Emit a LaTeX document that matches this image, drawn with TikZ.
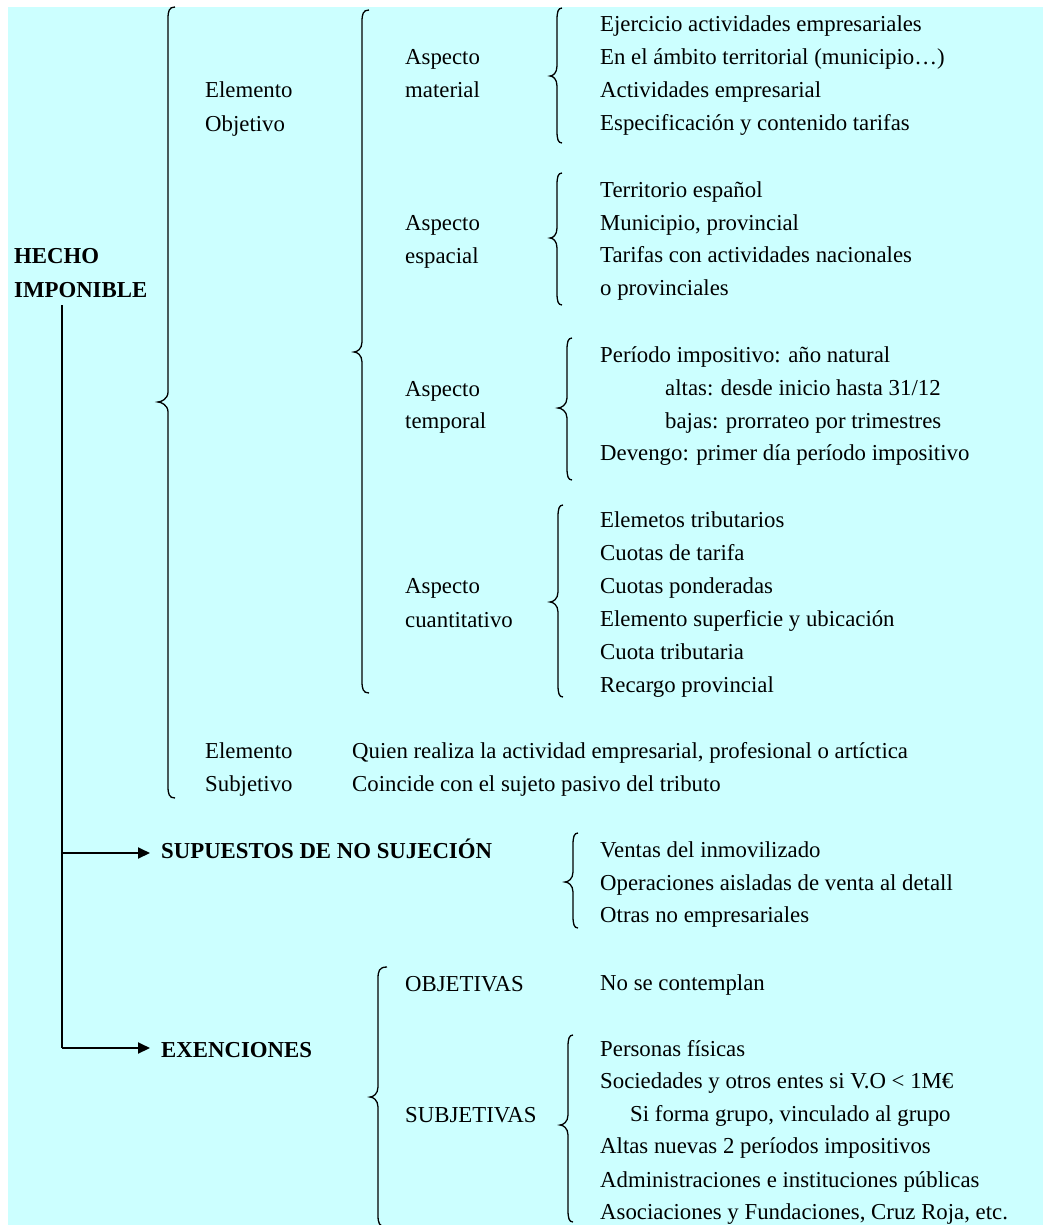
\documentclass[tikz,border=0pt]{standalone}
\usepackage{fontspec}
\setmainfont{Liberation Serif}
\usetikzlibrary{arrows.meta}
\definecolor{bgcyan}{RGB}{204,255,255}
\tikzset{
  txt/.style={anchor=base west, inner sep=0pt, font=\fontsize{22.8pt}{27pt}\selectfont},
  btxt/.style={txt, font=\fontsize{22.8pt}{27pt}\selectfont\bfseries},
  bracestyle/.style={line width=1.3pt, black},
  trunk/.style={line width=1.4pt, black},
  arr/.style={line width=2pt, -{Triangle[length=12pt,width=11pt]}}
}
\newcommand\tl[4]{\node[txt] (#1) at (#2,#3) {#4};}
\newcommand\tlb[4]{\node[btxt] (#1) at (#2,#3) {#4};}
% #1 end x, #2 vertical x, #3 tip x, #4 top y, #5 tip y, #6 bottom y
\newcommand\cbrace[6]{%
  \draw[bracestyle] (#1,#4) .. controls (#2+1,#4) and (#2,#4+4) .. (#2,#4+12)
    -- (#2,#5-10) .. controls (#2,#5-3) and (#3+3,#5) .. (#3,#5)
    .. controls (#3+3,#5) and (#2,#5+3) .. (#2,#5+10)
    -- (#2,#6-12) .. controls (#2,#6-4) and (#2+1,#6) .. (#1,#6);}
\begin{document}
\begin{tikzpicture}[x=1pt,y=-1pt]
\useasboundingbox (0,0) rectangle (1043,1225);
\fill[white] (0,0) rectangle (1043,1225);
\fill[bgcyan] (8,7) rectangle (1043,1225);

% root
\tlb{hecho}{14}{263}{HECHO}
\tlb{imponible}{14}{297}{IMPONIBLE}

% level 1 brace
\cbrace{175}{168}{158}{7}{402}{798}
\tl{eo1}{205}{98}{Elemento}
\tl{eo2}{205}{132}{Objetivo}
\tl{es1}{205}{758}{Elemento}
\tl{es2}{205}{791}{Subjetivo}
\tl{es3}{352}{758}{Quien realiza la actividad empresarial, profesional o artíctica}
\tl{es4}{352}{791}{Coincide con el sujeto pasivo del tributo}

% level 2 brace
\cbrace{369}{362}{354}{10}{352}{693}
\tl{am1}{405}{65}{Aspecto}
\tl{am2}{405}{98}{material}
\tl{ae1}{405}{230}{Aspecto}
\tl{ae2}{405}{263}{espacial}
\tl{at1}{405}{396}{Aspecto}
\tl{at2}{405}{428}{temporal}
\tl{ac1}{405}{593}{Aspecto}
\tl{ac2}{405}{627}{cuantitativo}

% material
\cbrace{562}{557}{550}{8}{76}{143}
\tl{m1}{600}{32}{Ejercicio actividades empresariales}
\tl{m2}{600}{65}{En el ámbito territorial (municipio…)}
\tl{m3}{600}{98}{Actividades empresarial}
\tl{m4}{600}{131}{Especificación y contenido tarifas}

% espacial
\cbrace{562}{557}{550}{173}{238}{305}
\tl{e1}{600}{197}{Territorio español}
\tl{e2}{600}{230}{Municipio, provincial}
\tl{e3}{600}{262}{Tarifas con actividades nacionales}
\tl{e4}{600}{295}{o provinciales}

% temporal
\cbrace{572}{567}{558}{338}{408}{480}
\tl{t1}{600}{362}{Período impositivo: año natural}
\tl{t2}{665}{395}{altas: desde inicio hasta 31/12}
\tl{t3}{665}{428}{bajas: prorrateo por trimestres}
\tl{t4}{600}{460}{Devengo: primer día período impositivo}

% cuantitativo
\cbrace{563}{558}{550}{505}{602}{697}
\tl{c1}{600}{527}{Elemetos tributarios}
\tl{c2}{600}{560}{Cuotas de tarifa}
\tl{c3}{600}{593}{Cuotas ponderadas}
\tl{c4}{600}{626}{Elemento superficie y ubicación}
\tl{c5}{600}{659}{Cuota tributaria}
\tl{c6}{600}{692}{Recargo provincial}

% trunk and arrows
\coordinate (v0) at (62,305);
\coordinate (vs) at (62,853);
\coordinate (ve) at (62,1048);
\draw[trunk] (v0) -- (ve);
\tlb{sup}{161}{858}{SUPUESTOS DE NO SUJECIÓN}
\tlb{exen}{161}{1057}{EXENCIONES}
\draw[arr] (vs) -- ([xshift=-11pt]vs -| sup.west);
\draw[arr] (ve) -- ([xshift=-11pt]ve -| exen.west);

% supuestos
\cbrace{578}{573}{565}{833}{882}{928}
\tl{s1}{600}{857}{Ventas del inmovilizado}
\tl{s2}{600}{890}{Operaciones aisladas de venta al detall}
\tl{s3}{600}{922}{Otras no empresariales}

% exenciones
\cbrace{387}{378}{370}{967}{1097}{1227}
\tl{ob}{405}{991}{OBJETIVAS}
\tl{ob1}{600}{990}{No se contemplan}
\tl{sb}{405}{1122}{SUBJETIVAS}
\cbrace{573}{568}{560}{1035}{1125}{1222}
\tl{sb1}{600}{1056}{Personas físicas}
\tl{sb2}{600}{1088}{Sociedades y otros entes si V.O < 1M€}
\tl{sb3}{630}{1121}{Si forma grupo, vinculado al grupo}
\tl{sb4}{600}{1153}{Altas nuevas 2 períodos impositivos}
\tl{sb5}{600}{1187}{Administraciones e instituciones públicas}
\tl{sb6}{600}{1219}{Asociaciones y Fundaciones, Cruz Roja, etc.}
\end{tikzpicture}
\end{document}
